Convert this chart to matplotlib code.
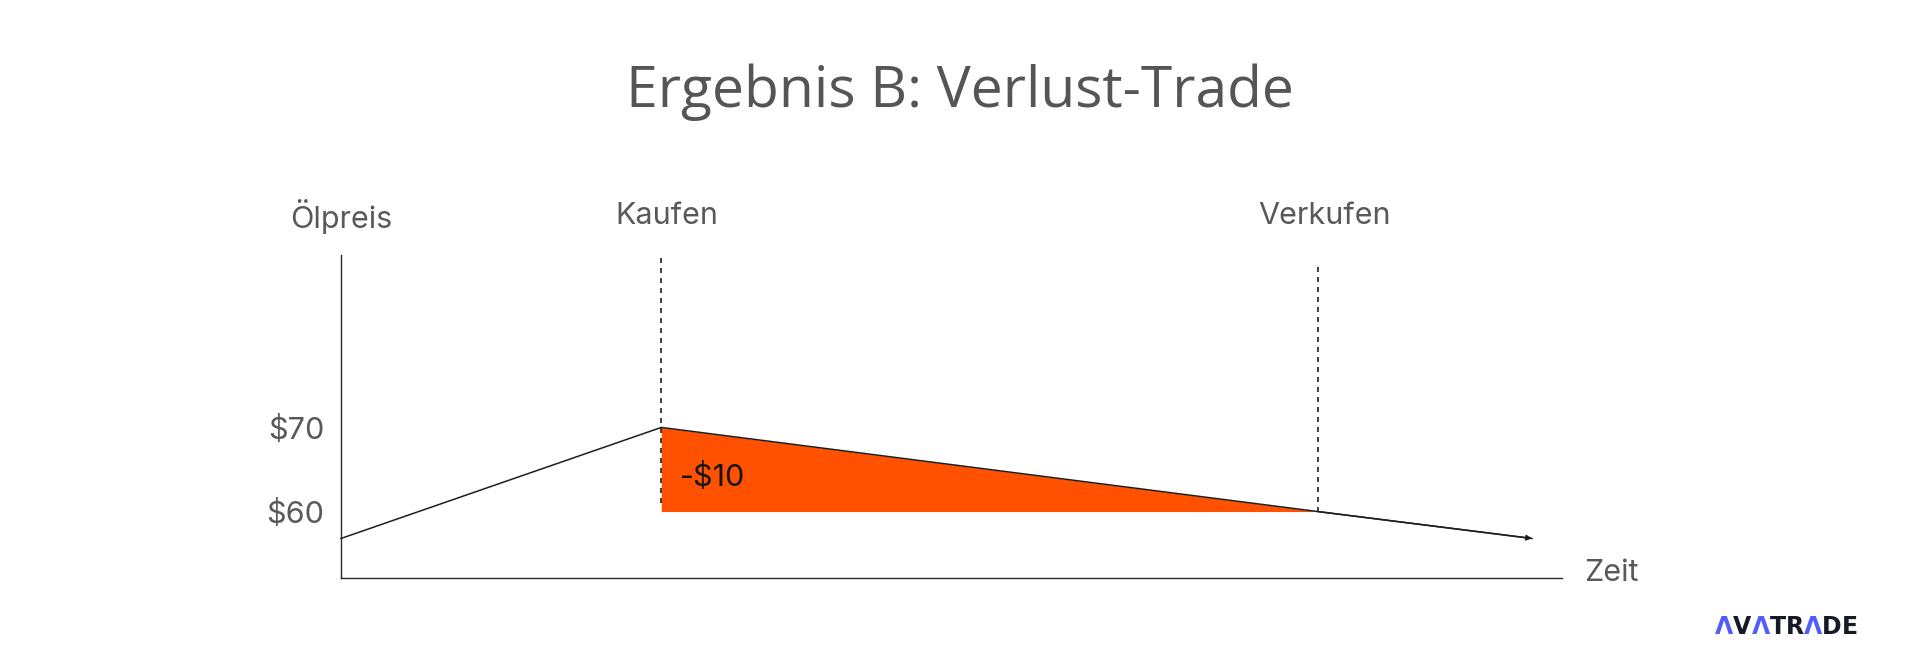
import numpy as np
from matplotlib import pyplot as plt

# price path (time in arbitrary units, price in $)
t_path = [0.0, 3.2, 9.76, 11.9]
price_path = [56.8, 70.0, 60.0, 56.8]
buy_t, sell_t = 3.2, 9.76
buy_price, sell_price = 70.0, 60.0
loss_label = "-$10"
ytick_vals = [60, 70]
ytick_labels = ["$60", "$70"]
title = "Ergebnis B: Verlust-Trade"

grey = "#595959"
dark = "#1e1e1e"
orange = "#ff5100"

fig = plt.figure(figsize=(19.2, 6.64), dpi=100)
ax = fig.add_axes([341 / 1920, 86 / 664, 1221 / 1920, 323 / 664])
ax.set_xlim(0, 12.2)
ax.set_ylim(52.1, 90.5)

for s in ["top", "right"]:
    ax.spines[s].set_visible(False)
for s in ["left", "bottom"]:
    ax.spines[s].set_color("#2a2a2a")
    ax.spines[s].set_linewidth(1.0)

ax.set_xticks([])
ax.set_yticks(ytick_vals)
ax.set_yticklabels(ytick_labels, fontfamily="Inter", fontsize=22, color=grey)
ax.tick_params(axis="y", length=0, pad=12)

# loss area between buy and sell
ax.fill_between([buy_t, sell_t], [buy_price, sell_price], sell_price,
                color=orange, linewidth=0, zorder=1)

# price line + arrow head at the end
ax.plot(t_path, price_path, color=dark, lw=1.1, zorder=3, clip_on=False)
ax.annotate("", xy=(t_path[-1], price_path[-1]), xytext=(t_path[-2], price_path[-2]),
            arrowprops=dict(arrowstyle="-|>", color=dark, lw=1.1,
                            mutation_scale=8, shrinkA=0, shrinkB=0), zorder=3)

# dotted markers for buy/sell
ax.plot([buy_t, buy_t], [61, 90.5], color=dark, lw=1.2, ls=(0, (3, 3)), zorder=4, clip_on=False)
ax.plot([sell_t, sell_t], [60, 89.2], color=dark, lw=1.2, ls=(0, (3, 3)), zorder=4, clip_on=False)

ax.text(3.39, 64.05, loss_label, fontfamily="Inter", fontsize=22, color="#141414",
        ha="left", va="center", zorder=5)

# axis labels
lab_y = 95.1
ax.text(0, lab_y, "Ölpreis", fontfamily="Inter", fontsize=22, color=grey, ha="center", va="center")
ax.text(buy_t + 0.06, lab_y, "Kaufen", fontfamily="Inter", fontsize=22, color=grey, ha="center", va="center")
ax.text(sell_t + 0.07, lab_y, "Verkufen", fontfamily="Inter", fontsize=22, color=grey, ha="center", va="center")
ax.text(12.42, 52.7, "Zeit", fontfamily="Inter", fontsize=22, color=grey, ha="left", va="center")

fig.text(0.5, 1 - 92 / 664, title, fontfamily="Open Sans", fontsize=41, color="#555555",
         ha="center", va="center")

# logo, letter by letter so the A's can be blue
logo_chars = ["Λ", "V", "Λ", "T", "R", "Λ", "D", "E"]
logo_cols = ["#4f5dff", "#161a26", "#4f5dff", "#161a26", "#161a26", "#4f5dff", "#161a26", "#161a26"]
prev = fig.text(1715 / 1920, 1 - 634 / 664, logo_chars[0], fontfamily="DejaVu Sans",
                fontweight="bold", fontsize=17, color=logo_cols[0], ha="left", va="baseline")
for ch, col in zip(logo_chars[1:], logo_cols[1:]):
    # each letter starts at the right edge of the previous one
    prev = ax.annotate(ch, xy=(1, 0), xycoords=prev, xytext=(0, 0),
                       textcoords="offset points", fontfamily="DejaVu Sans",
                       fontweight="bold", fontsize=17, color=col,
                       ha="left", va="bottom", annotation_clip=False)

fig.savefig("out.png", dpi=100, facecolor="white")
